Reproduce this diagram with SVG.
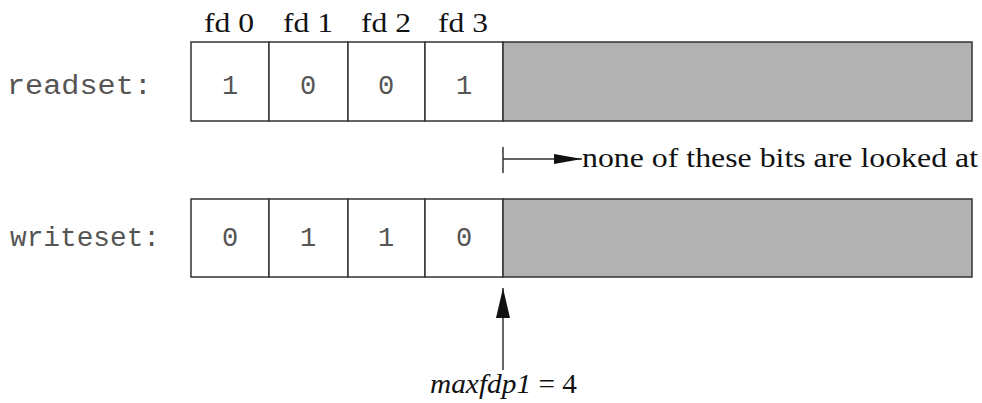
<svg xmlns="http://www.w3.org/2000/svg" width="982" height="403" viewBox="0 0 982 403">
<style>
.cell{fill:#fff;stroke:#333;stroke-width:1.5}
.gray{fill:#b2b2b2;stroke:#333;stroke-width:1.5}
.mono{font-family:"Liberation Mono","DejaVu Sans Mono",monospace;font-size:27px;fill:#555}
.serif{font-family:"Liberation Serif","DejaVu Serif",serif;font-size:28px;fill:#111}
.line{stroke:#333;stroke-width:1.5;fill:none}
</style>
<defs>
<marker id="ah" markerWidth="28" markerHeight="10" refX="28" refY="5" orient="auto" markerUnits="userSpaceOnUse">
<path d="M0,0 L28,5 L0,10 Z" fill="#111"/>
</marker>
<marker id="av" markerWidth="30" markerHeight="14" refX="30" refY="7" orient="auto" markerUnits="userSpaceOnUse">
<path d="M0,0 L30,7 L0,14 Z" fill="#111"/>
</marker>
</defs>
<g id="fd-labels" class="serif" text-anchor="middle">
<text x="229" y="32" textLength="50" lengthAdjust="spacingAndGlyphs">fd 0</text>
<text x="308" y="32" textLength="50" lengthAdjust="spacingAndGlyphs">fd 1</text>
<text x="386" y="32" textLength="50" lengthAdjust="spacingAndGlyphs">fd 2</text>
<text x="463" y="32" textLength="50" lengthAdjust="spacingAndGlyphs">fd 3</text>
</g>
<g id="readset">
<text class="mono" x="7" y="94" textLength="145" lengthAdjust="spacingAndGlyphs">readset:</text>
<rect class="cell" x="191" y="42" width="78" height="79"/>
<rect class="cell" x="269" y="42" width="79" height="79"/>
<rect class="cell" x="348" y="42" width="77" height="79"/>
<rect class="cell" x="425" y="42" width="78" height="79"/>
<rect class="gray" x="503" y="42" width="469" height="79"/>
<g class="mono" text-anchor="middle">
<text x="230" y="94">1</text><text x="308" y="94">0</text><text x="386" y="94">0</text><text x="464" y="94">1</text>
</g>
</g>
<g id="writeset">
<text class="mono" x="10" y="246" textLength="150" lengthAdjust="spacingAndGlyphs">writeset:</text>
<rect class="cell" x="191" y="199" width="78" height="78"/>
<rect class="cell" x="269" y="199" width="79" height="78"/>
<rect class="cell" x="348" y="199" width="77" height="78"/>
<rect class="cell" x="425" y="199" width="78" height="78"/>
<rect class="gray" x="503" y="199" width="469" height="78"/>
<g class="mono" text-anchor="middle">
<text x="230" y="246">0</text><text x="308" y="246">1</text><text x="386" y="246">1</text><text x="464" y="246">0</text>
</g>
</g>
<g id="connectors">
<line class="line" x1="503" y1="147" x2="503" y2="173"/>
<line class="line" x1="503" y1="159" x2="582" y2="159" marker-end="url(#ah)"/>
<line class="line" x1="503" y1="370" x2="503" y2="288" marker-end="url(#av)"/>
</g>
<g id="note">
<text class="serif" x="582" y="167" textLength="396" lengthAdjust="spacingAndGlyphs">none of these bits are looked at</text>
</g>
<g id="maxfdp1">
<text class="serif" x="430" y="393" textLength="147" lengthAdjust="spacingAndGlyphs"><tspan font-style="italic">maxfdp1</tspan> = 4</text>
</g>
</svg>
